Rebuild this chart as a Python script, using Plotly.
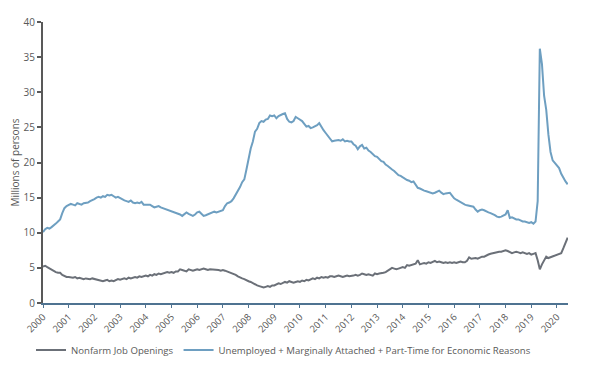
import plotly.graph_objects as go

# Monthly values (millions), label-year 2000.00 onward, 12 per row
job_openings = [
    5.2, 5.3, 5.1, 4.9, 4.7, 4.5, 4.4, 4.3, 4.3, 4.0, 3.8, 3.7,   # 2000
    3.7, 3.6, 3.6, 3.7, 3.5, 3.6, 3.5, 3.4, 3.5, 3.4, 3.4, 3.5,   # 2001
    3.4, 3.3, 3.3, 3.2, 3.1, 3.2, 3.3, 3.1, 3.2, 3.1, 3.3, 3.4,   # 2002
    3.3, 3.4, 3.5, 3.4, 3.6, 3.5, 3.6, 3.7, 3.6, 3.8, 3.7, 3.8,   # 2003
    3.9, 3.8, 4.0, 3.9, 4.1, 4.0, 4.2, 4.1, 4.2, 4.3, 4.4, 4.3,   # 2004
    4.4, 4.3, 4.5, 4.5, 4.8, 4.7, 4.6, 4.5, 4.8, 4.7, 4.6, 4.7,   # 2005
    4.8, 4.7, 4.8, 4.9, 4.8, 4.7, 4.8, 4.8, 4.7, 4.8, 4.7, 4.6,   # 2006
    4.7, 4.6, 4.5, 4.3, 4.2, 4.1, 4.0, 3.8, 3.6, 3.5, 3.4, 3.2,   # 2007
    3.1, 3.0, 2.8, 2.7, 2.5, 2.4, 2.3, 2.2, 2.3, 2.4, 2.3, 2.5,   # 2008
    2.5, 2.6, 2.8, 2.7, 2.9, 3.0, 2.9, 3.1, 3.0, 2.9, 3.0, 3.1,   # 2009
    3.0, 3.2, 3.1, 3.3, 3.2, 3.4, 3.5, 3.4, 3.6, 3.5, 3.7, 3.6,   # 2010
    3.7, 3.6, 3.8, 3.8, 3.7, 3.8, 3.9, 3.8, 3.7, 3.8, 3.9, 3.8,   # 2011
    3.8, 3.9, 4.0, 3.9, 4.0, 4.2, 4.1, 4.0, 4.1, 4.0, 3.9, 4.2,   # 2012
    4.1, 4.2, 4.2, 4.3, 4.4, 4.6, 4.8, 5.0, 4.9, 4.8, 4.9, 5.0,   # 2013
    5.1, 5.0, 5.4, 5.3, 5.4, 5.5, 5.6, 6.1, 5.5, 5.6, 5.7, 5.6,   # 2014
    5.8, 5.7, 5.9, 6.0, 5.8, 5.9, 5.8, 5.7, 5.8, 5.7, 5.8, 5.7,   # 2015
    5.8, 5.7, 5.8, 5.9, 5.8, 5.8, 6.0, 6.5, 6.3, 6.4, 6.4, 6.3,   # 2016
    6.5, 6.6, 6.6, 6.8, 6.9, 7.0, 7.1, 7.1, 7.2, 7.3, 7.3, 7.4,   # 2017
    7.5, 7.4, 7.2, 7.1, 7.2, 7.3, 7.2, 7.1, 7.2, 7.1, 7.0, 7.1,   # 2018
    6.9, 7.0, 7.1, 6.1, 4.8, 5.5, 6.1, 6.6, 6.4, 6.5, 6.6, 6.7,   # 2019
    6.8, 6.9, 7.1, 7.8, 8.6, 9.3,                                 # 2020
]

underemployed = [
    10.1, 10.5, 10.7, 10.6, 10.8, 11.0, 11.3, 11.6, 11.9, 12.8, 13.5, 13.8,  # 2000
    14.0, 14.1, 14.0, 13.9, 14.2, 14.1, 14.0, 14.2, 14.2, 14.3, 14.5, 14.6,  # 2001
    14.8, 15.0, 15.1, 15.0, 15.2, 15.1, 15.4, 15.3, 15.4, 15.2, 15.0, 15.1,  # 2002
    14.9, 14.7, 14.6, 14.5, 14.4, 14.6, 14.3, 14.2, 14.3, 14.2, 14.4, 14.0,  # 2003
    14.0, 13.9, 14.0, 13.8, 13.6, 13.7, 13.8, 13.6, 13.5, 13.4, 13.3, 13.2,  # 2004
    13.1, 13.0, 12.9, 12.7, 12.6, 12.4, 12.6, 12.9, 12.7, 12.5, 12.4, 12.6,  # 2005
    12.9, 13.0, 12.7, 12.4, 12.5, 12.6, 12.8, 12.9, 13.0, 12.9, 13.0, 13.0,  # 2006
    13.2, 13.8, 14.2, 14.3, 14.5, 14.9, 15.4, 15.8, 16.5, 17.2, 17.6, 19.0,  # 2007
    20.8, 22.0, 23.0, 24.4, 24.8, 25.6, 25.9, 25.8, 26.1, 26.2, 26.7, 26.6,  # 2008
    26.7, 26.3, 26.6, 26.8, 26.9, 27.0, 26.2, 25.8, 25.7, 25.9, 26.5, 26.3,  # 2009
    26.1, 25.9, 25.5, 25.1, 25.2, 24.9, 25.0, 25.1, 25.3, 25.6, 25.0, 24.6,  # 2010
    24.2, 23.8, 23.4, 23.0, 23.1, 23.2, 23.2, 23.1, 23.3, 23.0, 23.1, 23.0,  # 2011
    23.0, 22.6, 22.4, 21.9, 22.3, 22.5, 22.0, 22.1, 21.7, 21.5, 21.2, 20.9,  # 2012
    20.8, 20.5, 20.2, 20.1, 19.7, 19.5, 19.2, 19.0, 18.8, 18.5, 18.2, 18.1,  # 2013
    17.9, 17.6, 17.5, 17.4, 17.2, 17.3, 16.9, 16.4, 16.3, 16.1, 16.0, 15.9,  # 2014
    15.8, 15.7, 15.6, 15.7, 15.8, 16.0, 15.7, 15.5, 15.6, 15.6, 15.7, 15.3,  # 2015
    14.9, 14.7, 14.5, 14.3, 14.1, 14.0, 13.9, 13.8, 13.8, 13.7, 13.3, 13.0,  # 2016
    13.2, 13.3, 13.2, 13.0, 12.9, 12.8, 12.7, 12.5, 12.3, 12.2, 12.3, 12.4,  # 2017
    12.6, 13.2, 12.1, 12.2, 12.0, 11.9, 11.9, 11.7, 11.6, 11.6, 11.5, 11.4,  # 2018
    11.5, 11.3, 11.6, 14.5, 36.2, 34.0, 29.5, 27.5, 24.0, 21.5, 20.3, 19.9,  # 2019
    19.6, 19.2, 18.4, 17.8, 17.3, 16.9,                                      # 2020
]

year_ticks = list(range(2000, 2021))
year_labels = [str(y) for y in year_ticks]

months = [2000 + i / 12 for i in range(len(job_openings))]

fig = go.Figure()
fig.add_trace(go.Scatter(
    x=months, y=job_openings, mode="lines",
    name="Nonfarm Job Openings",
    line=dict(color="#6b7078", width=2),
))
fig.add_trace(go.Scatter(
    x=months, y=underemployed, mode="lines",
    name="Unemployed + Marginally Attached + Part-Time for Economic Reasons",
    line=dict(color="#6e9fc1", width=2),
))

font_color = "#595959"
# page body has an 8px default margin, so the figure is sized 592x364
fig_w, fig_h = 592, 364
fig.update_layout(
    width=fig_w, height=fig_h,
    margin=dict(l=35, r=32, t=14, b=69, autoexpand=False),
    paper_bgcolor="white", plot_bgcolor="white",
    font=dict(family="Open Sans", size=10, color=font_color),
    showlegend=True,
    legend=dict(
        orientation="h", xref="container", yref="container",
        x=23 / fig_w, xanchor="left", y=1 - 342 / fig_h, yanchor="middle",
        font=dict(size=9.6, color=font_color),
        itemwidth=30, tracegroupgap=0, bgcolor="rgba(0,0,0,0)",
    ),
    xaxis=dict(
        range=[2000, 2020.43], automargin=False,
        tickmode="array", tickvals=year_ticks, ticktext=year_labels,
        tickangle=-45, ticks="outside", ticklen=3, tickwidth=1.2,
        tickcolor="#4f7391", showline=True, linecolor="#4f7391", linewidth=1.5,
        showgrid=False, zeroline=False,
        tickfont=dict(size=9.5, color=font_color),
    ),
    yaxis=dict(
        range=[0, 40], automargin=False,
        tickmode="array", tickvals=[0, 5, 10, 15, 20, 25, 30, 35, 40],
        ticks="outside", ticklen=4, tickwidth=1.5, tickcolor="#595959",
        showline=True, linecolor="#595959", linewidth=2,
        showgrid=False, zeroline=False,
        title=dict(text="Millions of persons", font=dict(size=10, color=font_color), standoff=8),
        tickfont=dict(size=10, color=font_color),
    ),
)

fig.write_html("out.html")
